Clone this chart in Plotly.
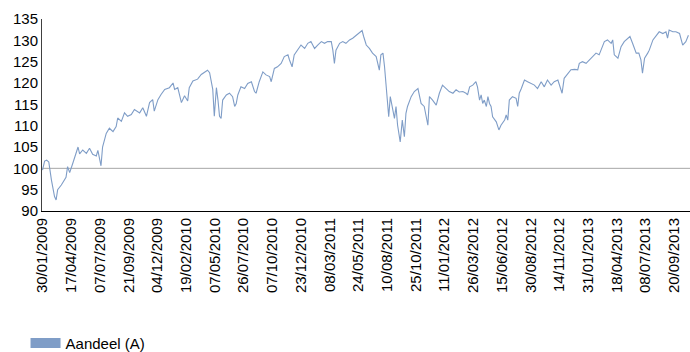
import plotly.graph_objects as go

# x tick labels (one every 55 trading days)
tick_labels = ["30/01/2009", "17/04/2009", "07/07/2009", "21/09/2009", "04/12/2009",
               "19/02/2010", "07/05/2010", "26/07/2010", "07/10/2010", "23/12/2010",
               "08/03/2011", "24/05/2011", "10/08/2011", "25/10/2011", "11/01/2012",
               "26/03/2012", "15/06/2012", "30/08/2012", "14/11/2012", "31/01/2013",
               "18/04/2013", "08/07/2013", "20/09/2013"]
tick_step = 55

# trading-day index of each read-off point
day = [0, 4, 8, 12, 17, 23, 26, 29, 36, 42, 45, 48, 52, 58, 65, 68, 71, 77, 84, 90,
       96, 103, 106, 109, 112, 115, 122, 128, 135, 141, 144, 151, 157, 163, 170, 176,
       186, 192, 199, 205, 211, 214, 221, 227, 234, 243, 250, 253, 259, 266, 272, 278,
       281, 288, 297, 304, 310, 316, 320, 326, 329, 333, 336, 339, 342, 345, 352, 358,
       364, 368, 371, 374, 380, 387, 393, 400, 406, 409, 415, 422, 428, 435, 438, 444,
       450, 457, 463, 470, 473, 478, 482, 489, 495, 502, 508, 514, 521, 527, 534, 540,
       546, 553, 556, 559, 562, 569, 575, 581, 588, 594, 601, 607, 612, 615, 620, 626,
       632, 639, 642, 645, 648, 652, 655, 658, 661, 663, 666, 670, 674, 677, 680, 685,
       689, 693, 696, 699, 706, 712, 719, 725, 731, 738, 741, 747, 754, 760, 766, 773,
       779, 786, 792, 798, 805, 811, 814, 818, 824, 830, 833, 837, 840, 843, 846, 850,
       853, 856, 859, 862, 869, 874, 878, 885, 888, 891, 894, 900, 907, 910, 913, 917,
       923, 929, 936, 942, 948, 955, 961, 967, 974, 980, 987, 993, 995, 999, 1006, 1012,
       1019, 1025, 1028, 1034, 1041, 1047, 1054, 1060, 1066, 1070, 1076, 1082, 1089, 1092,
       1095, 1102, 1108, 1114, 1121, 1125, 1130, 1137, 1142, 1146, 1149, 1153, 1159, 1162,
       1169, 1175, 1181, 1188, 1194, 1197, 1200, 1207, 1213, 1220, 1226, 1232, 1237]

# series values (Aandeel (A))
aandeel = [99.6, 101.7, 101.9, 101.5, 97.3, 93.4, 92.6, 95.0, 96.1, 97.3, 97.9, 100.4, 99.0,
           101.2, 104.3, 105.0, 103.4, 104.3, 103.5, 104.7, 103.3, 102.9, 104.2, 102.3, 100.6,
           105.0, 108.2, 109.4, 108.6, 109.8, 111.8, 111.0, 113.0, 112.2, 112.6, 113.8, 113.0,
           114.2, 112.2, 115.4, 116.1, 113.4, 116.1, 117.3, 118.5, 118.9, 120.0, 118.5, 118.9,
           115.4, 117.0, 115.8, 118.9, 120.5, 120.9, 122.0, 122.4, 123.0, 122.4, 118.5, 112.2,
           118.9, 116.0, 112.2, 111.7, 116.0, 117.2, 117.6, 116.8, 114.5, 115.2, 117.2, 119.1,
           118.7, 119.9, 120.3, 118.0, 117.6, 120.3, 122.6, 121.9, 121.5, 120.3, 123.4, 123.8,
           124.6, 126.2, 126.6, 125.4, 123.8, 126.6, 127.7, 128.9, 128.1, 129.3, 129.7, 128.1,
           128.9, 129.7, 129.3, 129.7, 129.7, 127.7, 124.6, 127.7, 129.3, 129.7, 129.3, 130.1,
           130.5, 131.2, 131.6, 132.3, 130.9, 128.9, 128.1, 127.0, 126.2, 124.2, 123.0, 126.6,
           127.0, 123.8, 119.1, 116.0, 112.1, 116.8, 113.7, 111.7, 114.5, 110.1, 106.2, 111.3,
           107.4, 112.9, 114.5, 116.8, 118.0, 118.7, 115.2, 114.5, 110.1, 116.8, 116.0, 114.8,
           117.6, 119.5, 118.7, 118.0, 117.6, 118.4, 117.9, 118.0, 117.6, 117.2, 119.1, 119.5,
           120.3, 119.1, 116.0, 117.2, 115.2, 116.0, 114.5, 116.8, 115.2, 114.5, 112.1, 110.9,
           109.0, 110.1, 111.3, 112.5, 111.3, 116.0, 116.8, 116.4, 114.5, 117.6, 118.7, 120.7,
           120.3, 119.9, 119.5, 118.7, 120.3, 119.1, 120.7, 119.5, 120.3, 120.7, 118.7, 117.6,
           121.1, 122.3, 123.1, 123.2, 123.1, 124.6, 125.0, 124.6, 125.4, 126.2, 127.0, 126.6,
           127.7, 129.7, 130.1, 129.3, 130.1, 126.6, 125.8, 128.5, 129.7, 130.5, 130.9, 129.3,
           127.0, 127.0, 125.4, 122.3, 125.8, 127.0, 127.7, 130.1, 131.2, 132.0, 131.6, 132.0,
           130.5, 132.4, 132.0, 132.0, 131.6, 128.9, 129.7, 131.2]

y_ticks = [90, 95, 100, 105, 110, 115, 120, 125, 130, 135]
baseline = 100
series_name = "Aandeel (A)"

FONT = "Liberation Sans, Arial, sans-serif"
COLOR = "#7f9dc7"

fig = go.Figure()
fig.add_trace(go.Scatter(x=day, y=aandeel, mode="lines",
                         line=dict(color=COLOR, width=1.1),
                         showlegend=False, hoverinfo="skip"))
# legend entry (filled-rectangle look)
fig.add_trace(go.Scatter(x=[None], y=[None], mode="lines", name=series_name,
                         line=dict(color=COLOR, width=11), showlegend=True))

fig.add_shape(type="line", xref="paper", x0=0, x1=1, yref="y", y0=baseline, y1=baseline,
              line=dict(color="#a6a6a6", width=1), layer="below")

fig.update_layout(
    width=690, height=352,
    margin=dict(l=42, r=0, t=19, b=141, autoexpand=False),
    plot_bgcolor="white", paper_bgcolor="white",
    font=dict(family=FONT, size=15, color="black"),
    xaxis=dict(range=[-1, 1240], tickmode="array", automargin=False,
               tickvals=[i * tick_step for i in range(len(tick_labels))],
               ticktext=tick_labels, tickangle=-90, showgrid=False, zeroline=False,
               showline=True, linecolor="black", linewidth=1, ticks="",
               tickfont=dict(size=15)),
    yaxis=dict(range=[90, 135], tickvals=y_ticks, showgrid=False, zeroline=False,
               showline=True, linecolor="#404040", linewidth=1, ticks="",
               automargin=False, tickfont=dict(size=15)),
    legend=dict(xref="container", yref="container", x=0.037, y=0.072,
                xanchor="left", yanchor="top", font=dict(size=15),
                itemwidth=30, bgcolor="rgba(0,0,0,0)"),
)

fig.write_html("out.html")
